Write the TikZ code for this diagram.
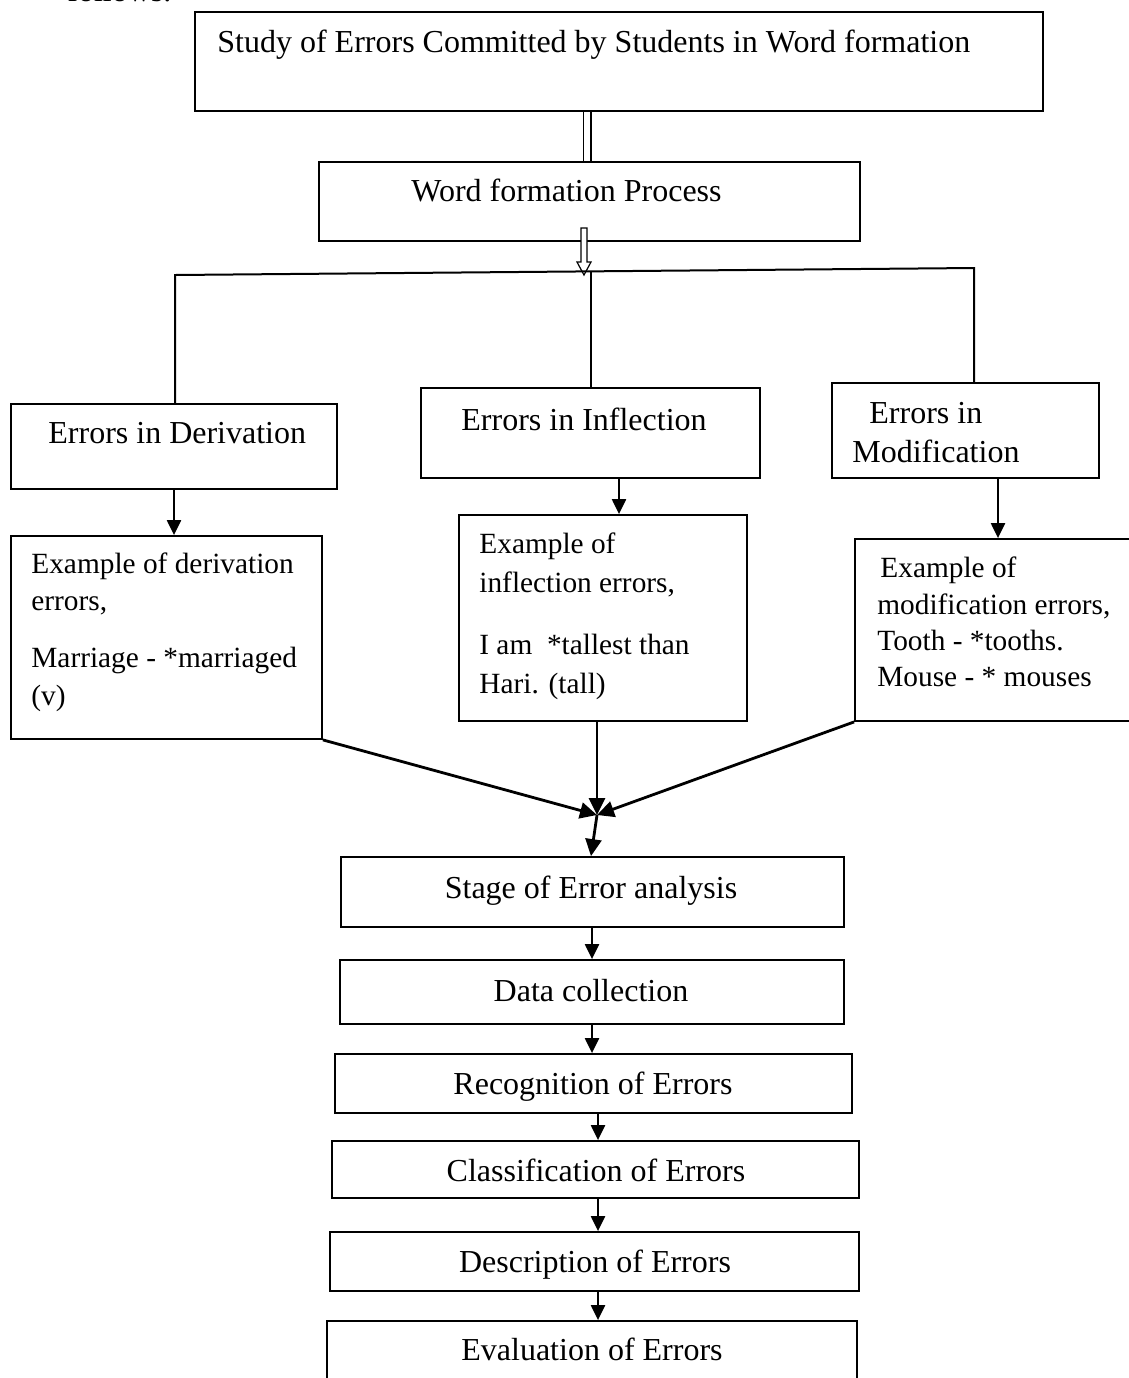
\documentclass[tikz,border=0pt]{standalone}
\usepackage{fontspec}
\setmainfont{Liberation Serif}
\usetikzlibrary{arrows.meta,fit}
\tikzset{
  box/.style={draw, line width=0.9pt, inner sep=0pt},
  big/.style={inner sep=0pt, font=\fontsize{16pt}{19pt}\selectfont},
  sml/.style={inner sep=0pt, font=\fontsize{14.67pt}{18pt}\selectfont},
  arr/.style={line width=1.1pt, -{Triangle[length=7.5pt,width=7pt]}},
  thickarr/.style={line width=1.4pt, -{Triangle[length=8.5pt,width=8pt]}},
  plain/.style={line width=1pt},
}
\begin{document}
\begin{tikzpicture}[x=0.5pt,y=-0.5pt]
\clip (0,0) rectangle (1129,1378);
\fill[white] (0,0) rectangle (1129,1378);

% cut-off text at the top
\node[big, anchor=base west] (fol) at (67,1.5) {follows.};

% top boxes
\node[box, fit={(195,12) (1043,111)}] (top) {};
\node[big, anchor=base west] (ttop) at (217,52) {Study of Errors Committed by Students in Word formation};
\node[box, fit={(319,162) (860,241)}] (wfp) {};
\node[big, anchor=base west] (twfp) at (411,201) {Word formation Process};

% double line connector
\coordinate (dl) at (587,0);
\draw[double, double distance=3.4pt, line width=0.55pt] (dl |- top.south) -- (dl |- wfp.north);

% hollow block arrow
\draw[line width=0.6pt, fill=white] (581,228) -- (587,228) -- (587,262) -- (591,262) -- (584,275)
  -- (577,262) -- (581,262) -- cycle;

% second level boxes
\node[box, fit={(11,404) (337,489)}] (der) {};
\node[big, anchor=base west] (tder) at (48,443) {Errors in Derivation};
\node[box, fit={(421,388) (760,478)}] (inf) {};
\node[big, anchor=base west] (tinf) at (461,430) {Errors in Inflection};
\node[box, fit={(832,383) (1099,478)}] (mod) {};
\node[big, anchor=base west] (tmod1) at (869,423) {Errors in};
\node[big, anchor=base west] (tmod2) at (852,462) {Modification};

% branching lines
\coordinate (bl) at (175,275);
\coordinate (br) at (974,268);
\coordinate (bm) at (591,271.4);
\draw[plain] (bl |- der.north) -- (bl) -- (br) -- (br |- mod.north);
\draw[plain] (bm) -- (bm |- inf.north);

% example boxes
\node[box, fit={(11,536) (322,739)}] (exd) {};
\node[sml, anchor=base west] (exd1) at (31,573) {Example of derivation};
\node[sml, anchor=base west] (exd2) at (31,610) {errors,};
\node[sml, anchor=base west] (exd3) at (31,667) {Marriage - *marriaged};
\node[sml, anchor=base west] (exd4) at (31,705) {(v)};

\node[box, fit={(459,515) (747,721)}] (exi) {};
\node[sml, anchor=base west] (exi1) at (479,553) {Example of};
\node[sml, anchor=base west] (exi2) at (479,592) {inflection errors,};
\node[sml, anchor=base west] (exi3) at (479,654) {I am\ \ *tallest than};
\node[sml, anchor=base west] (exi4) at (479,693) {Hari. (tall)};

\node[box, fit={(855,539) (1140,721)}] (exm) {};
\node[sml, anchor=base west] (exm1) at (880,577) {Example of};
\node[sml, anchor=base west] (exm2) at (877,614) {modification errors,};
\node[sml, anchor=base west] (exm3) at (877,650) {Tooth - *tooths.};
\node[sml, anchor=base west] (exm4) at (877,686) {Mouse - * mouses};

% arrows to examples
\coordinate (ad) at (174,0);
\coordinate (ai) at (619,0);
\coordinate (am) at (998,0);
\draw[arr] (ad |- der.south) -- (ad |- exd.north);
\draw[arr] (ai |- inf.south) -- (ai |- exi.north);
\draw[arr] (am |- mod.south) -- (am |- exm.north);

% converging arrows
\coordinate (meet) at (597,815);
\coordinate (av) at (597,0);
\coordinate (as) at (591,0);
\draw[thickarr] (exd.south east) -- (meet);
\draw[thickarr] (exm.south west) -- (meet);
\draw[thickarr] (av |- exi.south) -- (meet);

% lower chain
\node[box, fit={(341,857) (844,927)}] (stg) {};
\node[big, anchor=base] (tstg) at (591,898) {Stage of Error analysis};
\node[box, fit={(340,960) (844,1024)}] (dat) {};
\node[big, anchor=base] (tdat) at (591,1001) {Data collection};
\node[box, fit={(335,1054) (852,1113)}] (rec) {};
\node[big, anchor=base] (trec) at (593,1094) {Recognition of Errors};
\node[box, fit={(332,1141) (859,1198)}] (cla) {};
\node[big, anchor=base] (tcla) at (596,1181) {Classification of Errors};
\node[box, fit={(330,1232) (859,1291)}] (des) {};
\node[big, anchor=base] (tdes) at (595,1272) {Description of Errors};
\node[box, fit={(327,1321) (857,1395)}] (eva) {};
\node[big, anchor=base] (teva) at (592,1360) {Evaluation of Errors};

\draw[thickarr] (meet) -- (as |- stg.north);
\coordinate (c1) at (592,0);
\coordinate (c2) at (598,0);
\draw[arr] (c1 |- stg.south) -- (c1 |- dat.north);
\draw[arr] (c1 |- dat.south) -- (c1 |- rec.north);
\draw[arr] (c2 |- rec.south) -- (c2 |- cla.north);
\draw[arr] (c2 |- cla.south) -- (c2 |- des.north);
\draw[arr] (c2 |- des.south) -- (c2 |- eva.north);
\end{tikzpicture}
\end{document}
